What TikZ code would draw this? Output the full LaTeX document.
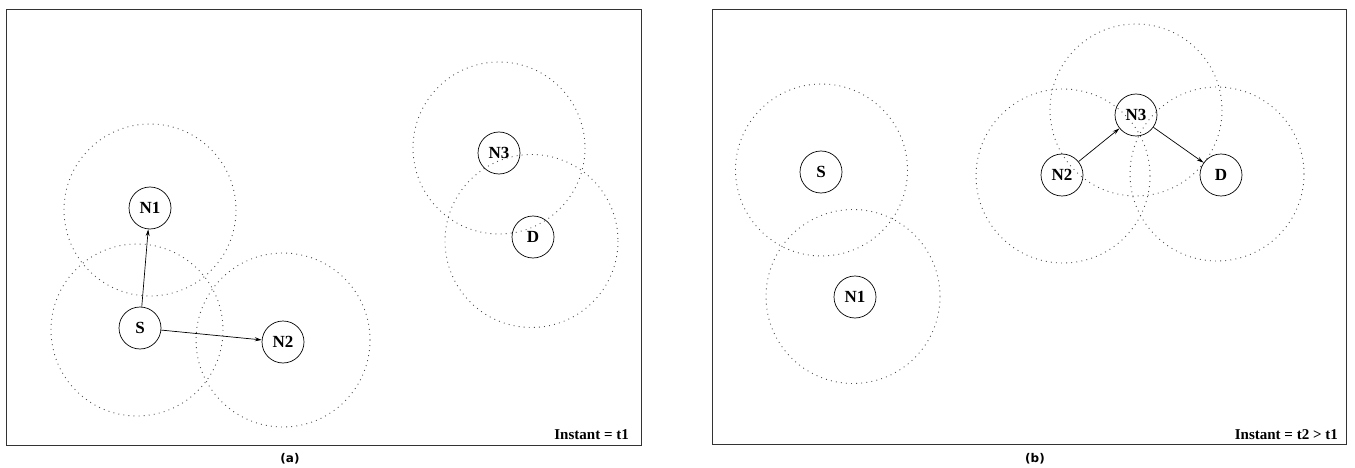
\documentclass[tikz,border=0pt]{standalone}
\usepackage{fontspec}
\setmainfont{Liberation Serif}[BoldFont={Liberation Serif Bold}]
\newfontfamily\capfont{DejaVu Sans}
\usetikzlibrary{arrows.meta}
\begin{document}
\begin{tikzpicture}[x=1pt,y=-1pt,
  frame/.style={draw=black!80,line width=0.9pt},
  mnode/.style={draw,circle,line width=0.7pt,minimum size=42pt,inner sep=0pt,font=\fontsize{17}{17}\selectfont\bfseries},
  rng/.style={draw=black!70,line width=0.9pt,dash pattern=on 0.9pt off 4.2pt},
  link/.style={draw,line width=0.7pt,-{Stealth[length=7pt,width=4pt,inset=2.5pt]}},
  stamp/.style={font=\fontsize{15}{15}\selectfont\bfseries,anchor=east,inner sep=0pt},
  sublabel/.style={font=\capfont\fontsize{12}{12}\selectfont\bfseries,inner sep=0pt}]
\useasboundingbox (0,0) rectangle (1355,468);
% ---------- panel (a)
\draw[frame] (6.5,9) rectangle (641,445);
\draw[rng] (150,210) circle (86);
\draw[rng] (137,330) circle (86);
\draw[rng] (283,340) circle (87);
\draw[rng] (499,148) circle (86);
\draw[rng] (531.5,241) circle (86.5);
\node[mnode] (aN1) at (150,208) {N1};
\node[mnode] (aS) at (140,328) {S};
\node[mnode] (aN2) at (283,342) {N2};
\node[mnode] (aN3) at (499,153) {N3};
\node[mnode] (aD) at (533,237) {D};
\draw[link] (aS) -- (aN1);
\draw[link] (aS) -- (aN2);
\node[stamp] (ta) at (629,435) {Instant = t1};
\node[sublabel] (la) at (290,459) {(a)};
% ---------- panel (b)
\draw[frame] (712,9) rectangle (1346,444);
\draw[rng] (821.5,170) circle (86);
\draw[rng] (853,296.5) circle (87);
\draw[rng] (1063,176) circle (87);
\draw[rng] (1136,110) circle (86);
\draw[rng] (1217,174) circle (87);
\node[mnode] (bS) at (821,172) {S};
\node[mnode] (bN1) at (855,297) {N1};
\node[mnode] (bN2) at (1062,175) {N2};
\node[mnode] (bN3) at (1136,115) {N3};
\node[mnode] (bD) at (1221,175) {D};
\draw[link] (bN2) -- (bN3);
\draw[link] (bN3) -- (bD);
\node[stamp] (tb) at (1338,435) {Instant = t2 > t1};
\node[sublabel] (lb) at (1035,459) {(b)};
\end{tikzpicture}
\end{document}
